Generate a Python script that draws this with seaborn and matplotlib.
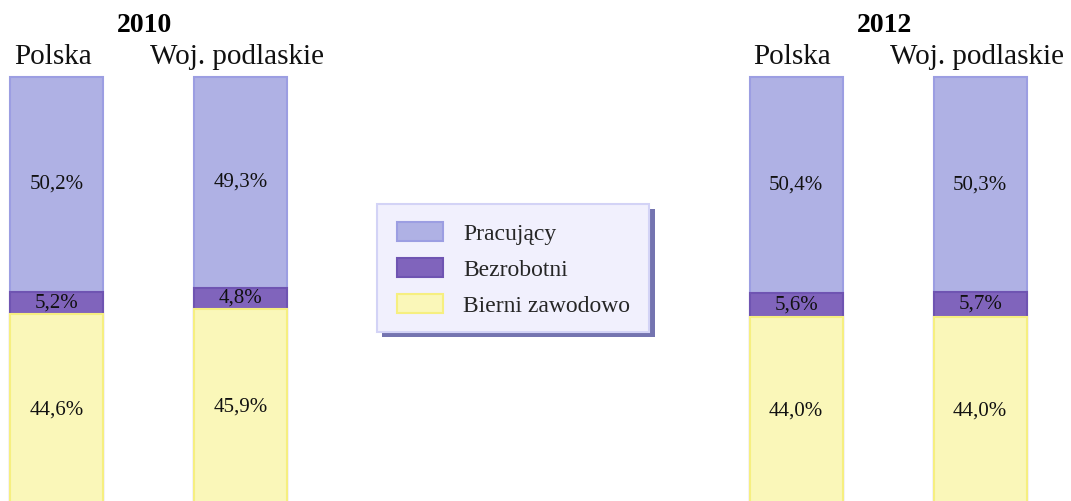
import numpy as np
import pandas as pd
import matplotlib
matplotlib.use("Agg")
import matplotlib.pyplot as plt
from matplotlib.patches import Patch, Rectangle
from matplotlib.transforms import IdentityTransform
import seaborn as sns

# ---- data ----
years = ["2010", "2010", "2012", "2012"]
regions = ["Polska", "Woj. podlaskie", "Polska", "Woj. podlaskie"]
pracujacy = [50.2, 49.3, 50.4, 50.3]
bezrobotni = [5.2, 4.8, 5.6, 5.7]
bierni = [44.6, 45.9, 44.0, 44.0]
series_names = ["Pracujący", "Bezrobotni", "Bierni zawodowo"]

# ---- style ----
sns.set_style("white")
plt.rcParams["font.family"] = ["Liberation Serif", "DejaVu Serif"]

fill = {"Pracujący": "#AFB1E4", "Bezrobotni": "#8064BC", "Bierni zawodowo": "#FAF7B9"}
edge = {"Pracujący": "#9C9EE2", "Bezrobotni": "#6F54B2", "Bierni zawodowo": "#F6EF80"}

# layout: bar centres along the x axis
positions = [0.0, 1.0, 4.02, 5.02]

W, H = 1071, 501
fig = plt.figure(figsize=(W / 100, H / 100), dpi=100)
ax = fig.add_axes([0, 0, 1, 1])

df = pd.DataFrame({
    "pos": positions,
    "year": years,
    "region": regions,
    "Pracujący": pracujacy,
    "Bezrobotni": bezrobotni,
    "Bierni zawodowo": bierni,
})
df["c1"] = df["Bierni zawodowo"]
df["c2"] = df["c1"] + df["Bezrobotni"]
df["c3"] = df["c2"] + df["Pracujący"]

lw = 1.5
for col, name in [("c3", "Pracujący"), ("c2", "Bezrobotni"), ("c1", "Bierni zawodowo")]:
    sns.barplot(data=df, x="pos", y=col, native_scale=True, width=0.505,
                color=fill[name], saturation=1, edgecolor=edge[name],
                linewidth=lw, errorbar=None, ax=ax)

px_per_unit_x = 184.0
x_left = -56.5 / px_per_unit_x
ax.set_xlim(x_left, x_left + W / px_per_unit_x)
top_px, bottom_px = 77, 505
ppu = (bottom_px - top_px) / 100.0
ax.set_ylim((bottom_px - H) / ppu, 100 + top_px / ppu)
ax.set_axis_off()

# value labels
for i, row in df.iterrows():
    segs = [(0, row["c1"], row["Bierni zawodowo"]),
            (row["c1"], row["c2"], row["Bezrobotni"]),
            (row["c2"], row["c3"], row["Pracujący"])]
    for lo, hi, v in segs:
        ax.text(row["pos"], (lo + hi) / 2, f"{v:.1f}%".replace(".", ","),
                ha="center", va="center", fontsize=15, color="#111111")
    # region labels
    ax.text(row["pos"] - 0.02, 100 + (top_px - 64) / ppu, row["region"],
            ha="center", va="baseline", fontsize=21, color="#111111")

# year titles
for yr in sorted(set(years)):
    sub = df[df["year"] == yr]
    ax.text(sub["pos"].mean() - 0.02, 100 + (top_px - 32) / ppu, yr,
            ha="center", va="baseline", fontsize=20, fontweight="bold", color="#000000")

# legend frame + shadow (pixel coordinates)
ax.add_artist(Rectangle((382, H - 337), 273, 128, transform=IdentityTransform(),
                        facecolor="#7474B0", edgecolor="none", zorder=4.8, clip_on=False))
ax.add_artist(Rectangle((377, H - 332), 272, 128, transform=IdentityTransform(),
                        facecolor="#F1F0FD", edgecolor="#D3D3F6", linewidth=1.5,
                        zorder=4.9, clip_on=False))

handles = [Patch(facecolor=fill[n], edgecolor=edge[n], linewidth=lw, label=n) for n in series_names]
leg = ax.legend(handles=handles, loc="upper left",
                bbox_to_anchor=(397 / W, 1 - 222 / H), bbox_transform=fig.transFigure,
                frameon=False, borderpad=0, borderaxespad=0, fontsize=17,
                handlelength=1.95, handleheight=0.85, handletextpad=0.85,
                labelspacing=0.57)
leg.set_zorder(5)

fig.savefig("out.png", dpi=100)
